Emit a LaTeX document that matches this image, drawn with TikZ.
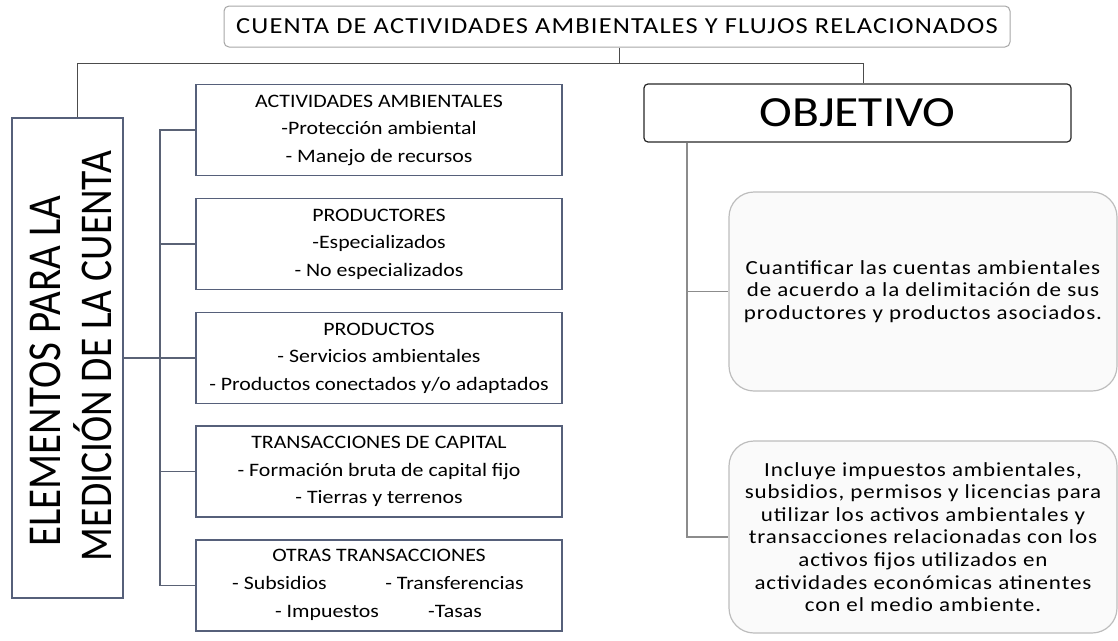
\documentclass[tikz,border=0pt]{standalone}
\usepackage{fontspec}
\setmainfont[FakeStretch=1.15]{Carlito}
\newfontfamily\rotfont{Carlito}
\newfontfamily\titlefont[FakeStretch=1.15,LetterSpace=5]{Carlito}
\newfontfamily\rfont[FakeStretch=1.15,LetterSpace=4.5]{Carlito}
\definecolor{slate}{HTML}{56607A}
\definecolor{lconnc}{HTML}{5A6275}
\definecolor{rconnc}{HTML}{8C8C8C}
\definecolor{titleb}{HTML}{A6A6A6}
\definecolor{roundb}{HTML}{BDBDBD}
\definecolor{roundf}{HTML}{FAFAFA}
\begin{document}
\begin{tikzpicture}[x=1pt,y=-1pt,
  smallbox/.style={draw=slate, line width=1.2pt, minimum width=366pt, minimum height=91pt, inner sep=0pt, align=center, font=\fontsize{19}{27.5}\selectfont},
  titlebox/.style={draw=titleb, line width=1pt, rounded corners=5pt, minimum width=786pt, minimum height=41pt, inner sep=0pt, font=\titlefont\fontsize{23}{28}\selectfont},
  objbox/.style={draw=black!85, line width=1.2pt, rounded corners=4pt, minimum width=427pt, minimum height=58pt, inner sep=0pt, font=\fontsize{43}{48}\selectfont},
  leftbox/.style={draw=slate, line width=1.2pt, minimum width=111pt, minimum height=480pt, inner sep=0pt},
  rottext/.style={rotate=90, yscale=1.15, anchor=base, inner sep=0pt, font=\rotfont\fontsize{39.5}{43}\selectfont},
  roundbox/.style={draw=roundb, fill=roundf, line width=1.2pt, rounded corners=25pt, minimum width=388pt, inner sep=0pt, align=center, font=\rfont\fontsize{20}{22.6}\selectfont},
  plain/.style={inner sep=0pt, text height=13pt, text depth=4pt, font=\fontsize{19}{27.5}\selectfont},
  conn/.style={draw=black!70, line width=1pt},
  lconn/.style={draw=lconnc, line width=1.2pt},
  rconn/.style={draw=rconnc, line width=1.2pt}
]
\useasboundingbox (0,0) rectangle (1118,640);

% top
\node[titlebox] (title) at (617,26.5) {CUENTA DE ACTIVIDADES AMBIENTALES Y FLUJOS RELACIONADOS};
\node[objbox] (obj) at (857.5,113) {OBJETIVO};
\node[leftbox] (lbox) at (67.5,358) {};
\node[rottext, font=\rotfont\fontsize{41}{43}\selectfont] (ltext1) at (60,371) {ELEMENTOS PARA LA};
\node[rottext] (ltext2) at (111,356) {MEDICIÓN DE LA CUENTA};

% small boxes
\node[smallbox] (b1) at (379,130) {ACTIVIDADES AMBIENTALES\\-Protección ambiental\\- Manejo de recursos};
\node[smallbox] (b2) at (379,244) {PRODUCTORES\\-Especializados\\- No especializados};
\node[smallbox] (b3) at (379,358) {PRODUCTOS\\- Servicios ambientales\\- Productos conectados y/o adaptados};
\node[smallbox] (b4) at (379,471.5) {TRANSACCIONES DE CAPITAL\\- Formación bruta de capital fijo\\- Tierras y terrenos};
\node[smallbox] (b5) at (379,585.5) {};
\node[plain] (t5a) at (379,557) {OTRAS TRANSACCIONES};
\node[plain] (t5b) at (279.5,585) {- Subsidios};
\node[plain] (t5c) at (454.5,585) {- Transferencias};
\node[plain] (t5d) at (327,613) {- Impuestos};
\node[plain] (t5e) at (455,613) {-Tasas};

% right round boxes
\node[roundbox, minimum height=199pt] (r1) at (923,291.5) {Cuantificar las cuentas ambientales\\de acuerdo a la delimitación de sus\\productores y productos asociados.};
\node[roundbox, minimum height=192pt] (r2) at (923,537) {Incluye impuestos ambientales,\\subsidios, permisos y licencias para\\utilizar los activos ambientales y\\transacciones relacionadas con los\\activos fijos utilizados en\\actividades económicas atinentes\\con el medio ambiente.};

% connectors
\coordinate (top) at (619,63);
\coordinate (lbus) at (160,358);
\draw[conn] (title.south) ++(2pt,0) -- (top);
\draw[conn] ([xshift=9.5pt]lbox.north) |- (top);
\draw[conn] (top) -| ([xshift=5.5pt]obj.north);
\draw[lconn] (lbox.east) -- (b3.west);
\foreach \b in {b1,b2,b4,b5} \draw[lconn] (\b.west) -| (lbus);
\draw[rconn] ([xshift=-170.5pt]obj.south) |- (r1.west);
\draw[rconn] ([xshift=-170.5pt]obj.south) |- (r2.west);
\end{tikzpicture}
\end{document}
